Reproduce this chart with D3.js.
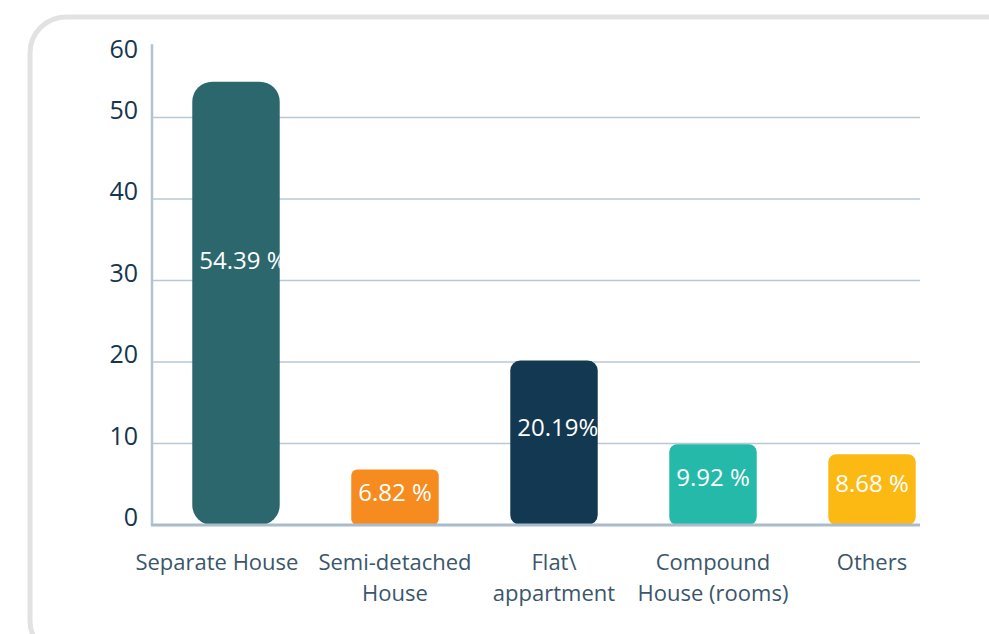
<!DOCTYPE html>
<html>
<head>
<meta charset="utf-8">
<script src="https://cdn.jsdelivr.net/npm/d3@7"></script>
<style>
  html, body { margin: 0; padding: 0; background: #fff; }
  svg { display: block; font-family: "Open Sans", sans-serif; }
</style>
</head>
<body>
<div id="chart"></div>
<script>
// housing type shares (%)
const categories = ["Separate House", "Semi-detached\nHouse", "Flat\\\nappartment", "Compound\nHouse (rooms)", "Others"];
const values = [54.39, 6.82, 20.19, 9.92, 8.68];
const valueLabels = ["54.39 %", "6.82 %", "20.19%", "9.92 %", "8.68 %"];
const yTicks = [0, 10, 20, 30, 40, 50, 60];
const gridTicks = [10, 20, 30, 40, 50];

const colors = ["#2c676d", "#f68b1f", "#133852", "#25b9aa", "#fdb913"];
const corners = [20, 6, 10, 8, 8];

const W = 989, H = 634;
const svg = d3.select("#chart").append("svg")
  .attr("width", W)
  .attr("height", H);

// card frame
svg.append("rect")
  .attr("x", 30).attr("y", 17)
  .attr("width", 1020).attr("height", 640)
  .attr("rx", 36)
  .attr("fill", "#fff")
  .attr("stroke", "#e2e2e2")
  .attr("stroke-width", 5);

const left = 152, right = 920, bottom = 525;

const x = d3.scaleBand()
  .domain(categories)
  .range([156.5, 951.5])
  .paddingInner(0.45)
  .paddingOuter(0.225);

const y = d3.scaleLinear()
  .domain([0, 60])
  .range([bottom, 36]);

const axisTop = y(59);

// grid
svg.append("g")
  .selectAll("line")
  .data(gridTicks)
  .enter()
  .append("line")
  .attr("x1", left)
  .attr("x2", right)
  .attr("y1", d => y(d))
  .attr("y2", d => y(d))
  .attr("stroke", "#b9c8d4")
  .attr("stroke-width", 1.5);

// clip for plot area (last bar is cut)
const defs = svg.append("defs");
defs.append("clipPath").attr("id", "plot")
  .append("rect")
  .attr("x", left).attr("y", 0)
  .attr("width", right - left).attr("height", bottom + 10);

const bars = svg.append("g").attr("clip-path", "url(#plot)");

categories.forEach((c, i) => {
  const bx = x(c), by = y(values[i]), bh = y(0) - y(values[i]);
  defs.append("clipPath").attr("id", "bar" + i)
    .append("rect")
    .attr("x", bx).attr("y", by)
    .attr("width", x.bandwidth()).attr("height", bh)
    .attr("rx", corners[i]);

  bars.append("rect")
    .attr("x", bx)
    .attr("y", by)
    .attr("width", x.bandwidth())
    .attr("height", bh)
    .attr("rx", corners[i])
    .attr("fill", colors[i]);

  bars.append("g").attr("clip-path", "url(#bar" + i + ")")
    .append("text")
    .attr("x", bx + 7)
    .attr("y", by + bh * 0.4)
    .attr("dominant-baseline", "central")
    .attr("font-size", 24)
    .attr("fill", "#fff")
    .text(valueLabels[i]);
});

// y axis line
svg.append("line")
  .attr("x1", left).attr("x2", left)
  .attr("y1", y(0)).attr("y2", axisTop)
  .attr("stroke", "#b3c4d1")
  .attr("stroke-width", 2.5);

// y tick labels
svg.append("g")
  .selectAll("text")
  .data(yTicks)
  .enter()
  .append("text")
  .attr("x", left - 14)
  .attr("y", d => Math.max(y(d) - 9, axisTop + 4))
  .attr("text-anchor", "end")
  .attr("dominant-baseline", "central")
  .attr("font-size", 25)
  .attr("fill", "#15344d")
  .text(d => d);

// baseline
svg.append("line")
  .attr("x1", left - 1).attr("x2", right)
  .attr("y1", y(0)).attr("y2", y(0))
  .attr("stroke", "#a9bccb")
  .attr("stroke-width", 3);

// category labels
const cat = svg.append("g")
  .selectAll("text")
  .data(categories)
  .enter()
  .append("text")
  .attr("y", 570)
  .attr("text-anchor", "middle")
  .attr("font-size", 22)
  .attr("fill", "#3a566b");
cat.each(function (d) {
  const t = d3.select(this);
  d.split("\n").forEach((line, k) => {
    t.append("tspan")
      .attr("x", x(d) + x.bandwidth() / 2)
      .attr("dy", k === 0 ? 0 : 31)
      .text(line);
  });
});

// push a label left when it would run into the next one
const nodes = cat.nodes();
for (let i = nodes.length - 2; i >= 0; i--) {
  const a = nodes[i].getBBox(), b = nodes[i + 1].getBBox();
  const overlap = a.x + a.width + 20 - b.x;
  if (overlap > 0) {
    d3.select(nodes[i]).selectAll("tspan")
      .attr("x", x(categories[i]) + x.bandwidth() / 2 - overlap);
  }
}
</script>
</body>
</html>
